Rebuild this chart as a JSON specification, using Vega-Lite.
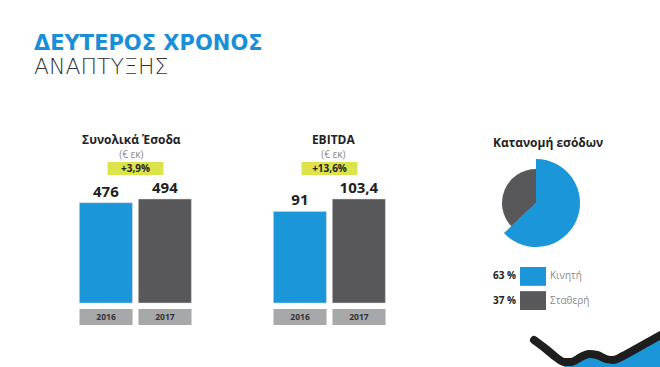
{
  "$schema": "https://vega.github.io/schema/vega-lite/v6.json",
  "autosize": {"type": "pad"},
  "padding": {"left": 34, "top": 33, "right": 0, "bottom": 0},
  "background": "white",
  "config": {
    "view": {"stroke": null},
    "font": "Open Sans",
    "title": {"font": "Open Sans", "fontSize": 12, "fontWeight": "bold", "color": "#222", "subtitleFont": "Open Sans", "subtitleFontSize": 10, "subtitleColor": "#8a8a8a", "subtitlePadding": 3}
  },
  "title": {
    "text": "ΔΕΥΤΕΡΟΣ ΧΡΟΝΟΣ",
    "subtitle": "ΑΝΑΠΤΥΞΗΣ",
    "anchor": "start",
    "dx": -45,
    "offset": 56,
    "font": "DejaVu Sans",
    "fontSize": 21,
    "fontWeight": "bold",
    "color": "#1a8fd8",
    "subtitleFont": "DejaVu Sans",
    "subtitleFontSize": 22,
    "subtitleFontWeight": 200,
    "subtitleColor": "#333333",
    "subtitlePadding": 3
  },
  "datasets": {
    "revenue": [
      {"year": "2016", "value": 476, "label": "476"},
      {"year": "2017", "value": 494, "label": "494"}
    ],
    "ebitda": [
      {"year": "2016", "value": 91, "label": "91"},
      {"year": "2017", "value": 103.4, "label": "103,4"}
    ],
    "share": [
      {"cat": "Κινητή", "pct": 63, "label": "63 %"},
      {"cat": "Σταθερή", "pct": 37, "label": "37 %"}
    ],
    "wave": [
      {"u": 42, "v": 31}, {"u": 54, "v": 22}, {"u": 65, "v": 13}, {"u": 72, "v": 9},
      {"u": 79, "v": 9}, {"u": 89, "v": 14}, {"u": 97, "v": 17}, {"u": 105, "v": 16},
      {"u": 114, "v": 12}, {"u": 121, "v": 11}, {"u": 131, "v": 15}, {"u": 149, "v": 25},
      {"u": 169, "v": 36}
    ]
  },
  "spacing": 106,
  "hconcat": [
    {
      "spacing": 81,
      "hconcat": [
        {
          "title": {"text": "Συνολικά Έσοδα", "subtitle": "(€ εκ)", "anchor": "middle", "offset": 1, "dx": -4},
          "spacing": 5,
          "center": true,
          "vconcat": [
            {
              "width": 56, "height": 13,
              "view": {"fill": "#dde34b", "stroke": null},
              "data": {"values": [{"growth": "+3,9%"}]},
              "mark": {"type": "text", "fontWeight": "bold", "fontSize": 10, "color": "#222", "baseline": "middle"},
              "encoding": {"text": {"field": "growth"}}
            },
            {
              "width": 112, "height": 116,
              "data": {"name": "revenue"},
              "encoding": {
                "x": {"field": "year", "type": "nominal", "axis": null, "scale": {"paddingInner": 0.1, "paddingOuter": 0}},
                "y": {"field": "value", "type": "quantitative", "axis": null, "scale": {"domain": [0, 551], "nice": false}}
              },
              "layer": [
                {"mark": {"type": "bar", "stroke": "#d9d9d9", "strokeWidth": 0.5},
                 "encoding": {"color": {"field": "year", "type": "nominal", "legend": null, "scale": {"domain": ["2016", "2017"], "range": ["#1b96d9", "#58585a"]}}}},
                {"mark": {"type": "text", "baseline": "bottom", "dy": -3, "fontSize": 15, "fontWeight": "bold", "color": "#222"},
                 "encoding": {"text": {"field": "label"}}}
              ]
            },
            {
              "width": 112, "height": 16,
              "data": {"name": "revenue"},
              "encoding": {
                "x": {"field": "year", "type": "nominal", "axis": null, "scale": {"paddingInner": 0.1, "paddingOuter": 0}}
              },
              "layer": [
                {"mark": {"type": "bar", "color": "#a7a8aa"}},
                {"mark": {"type": "text", "fontSize": 8.5, "fontWeight": "bold", "color": "#333", "baseline": "middle"},
                 "encoding": {"text": {"field": "year"}}}
              ]
            }
          ]
        },
        {
          "title": {"text": "EBITDA", "subtitle": "(€ εκ)", "anchor": "middle", "offset": 1, "dx": 4},
          "spacing": 5,
          "center": true,
          "vconcat": [
            {
              "width": 56, "height": 13,
              "view": {"fill": "#dde34b", "stroke": null},
              "data": {"values": [{"growth": "+13,6%"}]},
              "mark": {"type": "text", "fontWeight": "bold", "fontSize": 10, "color": "#222", "baseline": "middle"},
              "encoding": {"text": {"field": "growth"}}
            },
            {
              "width": 112, "height": 116,
              "data": {"name": "ebitda"},
              "encoding": {
                "x": {"field": "year", "type": "nominal", "axis": null, "scale": {"paddingInner": 0.1, "paddingOuter": 0}},
                "y": {"field": "value", "type": "quantitative", "axis": null, "scale": {"domain": [0, 115.3], "nice": false}}
              },
              "layer": [
                {"mark": {"type": "bar", "stroke": "#d9d9d9", "strokeWidth": 0.5},
                 "encoding": {"color": {"field": "year", "type": "nominal", "legend": null, "scale": {"domain": ["2016", "2017"], "range": ["#1b96d9", "#58585a"]}}}},
                {"mark": {"type": "text", "baseline": "bottom", "dy": -3, "fontSize": 15, "fontWeight": "bold", "color": "#222"},
                 "encoding": {"text": {"field": "label"}}}
              ]
            },
            {
              "width": 112, "height": 16,
              "data": {"name": "ebitda"},
              "encoding": {
                "x": {"field": "year", "type": "nominal", "axis": null, "scale": {"paddingInner": 0.1, "paddingOuter": 0}}
              },
              "layer": [
                {"mark": {"type": "bar", "color": "#a7a8aa"}},
                {"mark": {"type": "text", "fontSize": 8.5, "fontWeight": "bold", "color": "#333", "baseline": "middle"},
                 "encoding": {"text": {"field": "year"}}}
              ]
            }
          ]
        }
      ]
    },
    {
      "title": {"text": "Κατανομή εσόδων", "anchor": "start", "offset": 9},
      "spacing": 20,
      "vconcat": [
        {
          "width": 32, "height": 82,
          "data": {"name": "share"},
          "encoding": {
            "theta": {"field": "pct", "type": "quantitative", "stack": true, "scale": {"domain": [0, 100]}},
            "order": {"field": "pct", "sort": "descending"}
          },
          "layer": [
            {"mark": {"type": "arc", "radius": 34, "color": "#58585a"}},
            {"transform": [{"filter": "datum.cat === 'Κινητή'"}],
             "mark": {"type": "arc", "radius": 44},
             "encoding": {"color": {"field": "cat", "type": "nominal", "legend": null, "scale": {"domain": ["Κινητή", "Σταθερή"], "range": ["#1b96d9", "#58585a"]}}}}
          ]
        },
        {
          "width": 26, "height": 43,
          "data": {"name": "share"},
          "encoding": {
            "y": {"field": "cat", "type": "nominal", "axis": null, "sort": null, "scale": {"paddingInner": 0.22, "paddingOuter": 0}}
          },
          "layer": [
            {"mark": {"type": "rect"},
             "encoding": {"color": {"field": "cat", "type": "nominal", "legend": null, "scale": {"domain": ["Κινητή", "Σταθερή"], "range": ["#1b96d9", "#58585a"]}}}},
            {"mark": {"type": "text", "align": "right", "dx": -17, "fontSize": 10, "fontWeight": "bold", "color": "#222", "baseline": "middle"},
             "encoding": {"text": {"field": "label"}}},
            {"mark": {"type": "text", "align": "left", "dx": 17, "fontSize": 10, "color": "#8a8a8a", "baseline": "middle"},
             "encoding": {"text": {"field": "cat"}}}
          ]
        },
        {
          "width": 141, "height": 40,
          "data": {"name": "wave"},
          "encoding": {
            "x": {"field": "u", "type": "quantitative", "axis": null, "scale": {"domain": [28, 169], "nice": false, "zero": false}},
            "y": {"field": "v", "type": "quantitative", "axis": null, "scale": {"domain": [0, 40], "nice": false}}
          },
          "layer": [
            {"transform": [{"filter": "datum.u >= 72"}],
             "mark": {"type": "area", "color": "#1b96d9", "interpolate": "monotone"}},
            {"mark": {"type": "line", "color": "#1e1e1e", "strokeWidth": 8, "strokeCap": "round", "strokeJoin": "round", "interpolate": "monotone"}}
          ]
        }
      ]
    }
  ]
}
